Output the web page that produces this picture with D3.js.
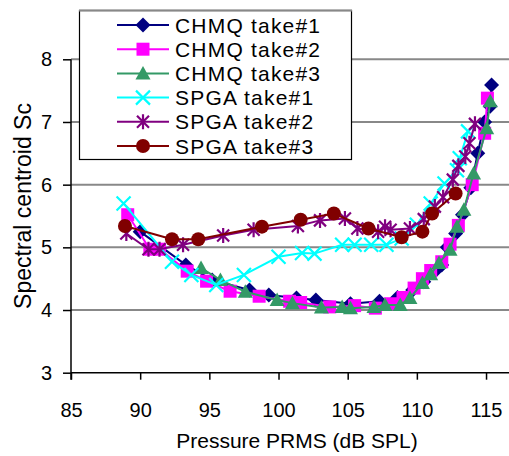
<!DOCTYPE html>
<html>
<head>
<meta charset="utf-8">
<script src="https://cdn.jsdelivr.net/npm/d3@7"></script>
<style>
  body { margin: 0; background: white; }
  text { font-family: "Liberation Sans", Arial, sans-serif; fill: black; }
</style>
</head>
<body>
<div id="chart"></div>
<script>
// series names, in legend order
const seriesNames = ["CHMQ take#1", "CHMQ take#2", "CHMQ take#3", "SPGA take#1", "SPGA take#2", "SPGA take#3"]

// [pressure dB SPL, spectral centroid]
const chmq1 = [[90.0,5.25],[93.3,4.72],[95.2,4.48],[97.9,4.32],[99.3,4.24],[101.3,4.19],[102.7,4.16],[105.2,4.10],[107.3,4.14],[108.6,4.20],[109.7,4.32],[110.5,4.45],[111.3,4.62],[111.8,4.72],[112.2,5.0],[112.8,5.22],[113.3,5.52],[113.9,5.95],[114.4,6.50],[114.9,7.00],[115.3,7.25],[115.4,7.59]]
const chmq2 = [[89.1,5.52],[90.7,4.97],[91.4,4.97],[93.4,4.62],[94.8,4.46],[96.5,4.30],[98.6,4.22],[100.8,4.14],[101.6,4.12],[103.7,4.05],[105.5,4.07],[107.0,4.03],[108.1,4.10],[109.0,4.20],[109.8,4.35],[110.4,4.50],[111.0,4.63],[111.8,4.77],[112.4,5.05],[113.0,5.35],[114.0,6.00],[114.9,6.82],[115.1,7.38]]
const chmq3 = [[94.4,4.67],[95.8,4.48],[97.6,4.29],[99.9,4.16],[101.0,4.11],[103.1,4.04],[104.6,4.05],[105.2,4.03],[106.9,4.05],[107.7,4.08],[108.8,4.08],[109.5,4.19],[110.4,4.43],[111.0,4.57],[111.6,4.75],[112.4,4.96],[112.9,5.33],[113.4,5.60],[114.1,6.18],[115.05,6.90],[115.3,7.33]]
const spga1 = [[88.8,5.70],[92.3,4.77],[93.7,4.56],[95.5,4.40],[97.5,4.56],[100.0,4.85],[101.7,4.91],[102.6,4.90],[104.6,5.04],[105.5,5.04],[106.7,5.04],[107.8,5.04],[108.9,5.14],[110.0,5.36],[111.0,5.70],[112.0,6.02],[112.9,6.23],[113.1,6.42],[113.7,6.85]]
const spga2 = [[89.0,5.22],[90.6,4.97],[91.4,4.97],[93.1,5.04],[96.0,5.19],[98.2,5.28],[101.4,5.34],[103.0,5.43],[104.8,5.46],[105.7,5.30],[107.2,5.25],[107.7,5.33],[108.1,5.28],[109.5,5.30],[110.5,5.45],[111.3,5.65],[111.9,5.80],[112.6,6.08],[113.0,6.30],[113.5,6.45],[113.8,6.66],[114.2,6.97]]
const spga3 = [[88.9,5.34],[92.3,5.13],[94.2,5.13],[98.8,5.33],[101.6,5.44],[104.0,5.54],[106.5,5.30],[108.9,5.16],[110.4,5.25],[111.1,5.54],[112.8,5.86]]

const xTicks = [85, 90, 95, 100, 105, 110, 115]
const yTicks = [3, 4, 5, 6, 7, 8]

const allSeries = [chmq1, chmq2, chmq3, spga1, spga2, spga3]
const colors = ["#000080", "#ff00ff", "#339966", "#00ffff", "#800080", "#800000"]
const markers = ["diamond", "square", "triangle", "x", "star", "circle"]

const Width = 509, Height = 456
const svg = d3.select("#chart").append("svg")
  .attr("width", Width)
  .attr("height", Height)

const xScale = d3.scaleLinear().domain([85, 116.66]).range([71, 509])
const yScale = d3.scaleLinear().domain([3, 8]).range([372.7, 59.3])

// 网格线
svg.append("g")
  .selectAll("line")
  .data(yTicks.filter(d => d > 3))
  .enter().append("line")
  .attr("x1", xScale(85)).attr("x2", Width)
  .attr("y1", d => yScale(d)).attr("y2", d => yScale(d))
  .attr("stroke", "#888").attr("stroke-width", 2)

// 坐标轴
const xAxis = d3.axisBottom(xScale).tickValues(xTicks).tickSize(7).tickPadding(23).tickFormat(d3.format("d"))
const yAxis = d3.axisLeft(yScale).tickValues(yTicks).tickSize(8).tickPadding(11).tickFormat(d3.format("d"))

const gx = svg.append("g")
  .attr("transform", `translate(0, ${yScale(3)})`)
  .call(xAxis)
gx.select(".domain").attr("d", `M${xScale(85)},0H${Width}`)

const gy = svg.append("g")
  .attr("transform", `translate(${xScale(85)}, 0)`)
  .call(yAxis)
gy.select(".domain").attr("d", `M0,${yScale(3) + 7}V${yScale(8)}`)

svg.selectAll(".tick text").style("font-size", "20px").style("font-family", "'Liberation Sans', Arial, sans-serif")
svg.selectAll(".domain, .tick line").attr("stroke", "#000").attr("stroke-width", 1.5)

// 轴标题
svg.append("text")
  .attr("x", 297).attr("y", 448)
  .attr("text-anchor", "middle")
  .style("font-size", "21px")
  .text("Pressure PRMS (dB SPL)")

svg.append("text")
  .attr("transform", "rotate(-90)")
  .attr("x", -206).attr("y", 31)
  .attr("text-anchor", "middle")
  .style("font-size", "23px")
  .text("Spectral centroid Sc")

// 标记
const drawMarker = (g, type, color, x, y) => {
  if (type === "diamond") {
    g.append("path").attr("d", `M${x},${y - 7.5}L${x + 7.5},${y}L${x},${y + 7.5}L${x - 7.5},${y}Z`).attr("fill", color)
  } else if (type === "square") {
    g.append("rect").attr("x", x - 6.5).attr("y", y - 6.5).attr("width", 13).attr("height", 13).attr("fill", color)
  } else if (type === "triangle") {
    g.append("path").attr("d", `M${x},${y - 7.5}L${x + 7.5},${y + 6}L${x - 7.5},${y + 6}Z`).attr("fill", color)
  } else if (type === "circle") {
    g.append("circle").attr("cx", x).attr("cy", y).attr("r", 7).attr("fill", color)
  } else if (type === "x") {
    g.append("path").attr("d", `M${x - 7},${y - 7}L${x + 7},${y + 7}M${x - 7},${y + 7}L${x + 7},${y - 7}`)
      .attr("stroke", color).attr("stroke-width", 2.2).attr("fill", "none")
  } else if (type === "star") {
    g.append("path").attr("d", `M${x - 6},${y - 6}L${x + 6},${y + 6}M${x - 6},${y + 6}L${x + 6},${y - 6}M${x},${y - 7.5}L${x},${y + 7.5}`)
      .attr("stroke", color).attr("stroke-width", 2.2).attr("fill", "none")
  }
}

const line = d3.line().x(d => xScale(d[0])).y(d => yScale(d[1]))

allSeries.forEach((data, i) => {
  const g = svg.append("g")
  g.append("path")
    .datum(data)
    .attr("d", line)
    .attr("fill", "none")
    .attr("stroke", colors[i])
    .attr("stroke-width", 2)
  data.forEach(d => drawMarker(g, markers[i], colors[i], xScale(d[0]), yScale(d[1])))
})

// 图例
const legend = svg.append("g")
legend.append("rect")
  .attr("x", 79.5).attr("y", 10.5).attr("width", 272).attr("height", 149)
  .attr("fill", "white").attr("stroke", "#000").attr("stroke-width", 1.2)
legend.append("line")
  .attr("x1", 79).attr("x2", 352).attr("y1", 10.5).attr("y2", 10.5)
  .attr("stroke", "#888").attr("stroke-width", 2)

seriesNames.forEach((name, i) => {
  const y = 25 + i * 24.2
  legend.append("line")
    .attr("x1", 117).attr("x2", 169).attr("y1", y).attr("y2", y)
    .attr("stroke", colors[i]).attr("stroke-width", 2)
  drawMarker(legend, markers[i], colors[i], 143, y)
  legend.append("text")
    .attr("x", 175).attr("y", y + 7.5)
    .style("font-size", "21px")
    .style("letter-spacing", "1.2px")
    .text(name)
})
</script>
</body>
</html>
